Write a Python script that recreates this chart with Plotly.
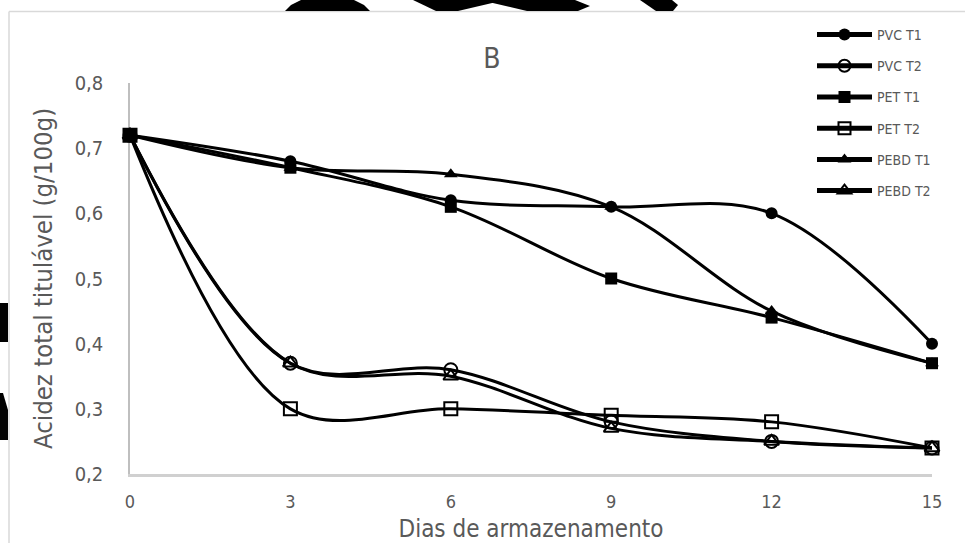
import plotly.graph_objects as go

# ---- data ----
dias = [0, 3, 6, 9, 12, 15]
pvc_t1 = [0.72, 0.68, 0.62, 0.61, 0.60, 0.40]
pvc_t2 = [0.72, 0.37, 0.36, 0.28, 0.25, 0.24]
pet_t1 = [0.72, 0.67, 0.61, 0.50, 0.44, 0.37]
pet_t2 = [0.72, 0.30, 0.30, 0.29, 0.28, 0.24]
pebd_t1 = [0.72, 0.67, 0.66, 0.61, 0.45, 0.37]
pebd_t2 = [0.72, 0.37, 0.35, 0.27, 0.25, 0.24]
series_names = ["PVC T1", "PVC T2", "PET T1", "PET T2", "PEBD T1", "PEBD T2"]
x_ticks = [0, 3, 6, 9, 12, 15]
y_ticks = [0.2, 0.3, 0.4, 0.5, 0.6, 0.7, 0.8]

W, H = 965, 543
ML, MR, MT, MB = 130, 33, 83, 69
PW, PH = W - ML - MR, H - MT - MB

FONT = "Liberation Sans Narrow, DejaVu Sans Condensed, Open Sans, sans-serif"
GRAY = "#595959"

symbols = ["circle", "circle-open", "square", "square-open", "triangle-up", "triangle-up-open"]
values = [pvc_t1, pvc_t2, pet_t1, pet_t2, pebd_t1, pebd_t2]

fig = go.Figure()
for i, (name, vals, sym) in enumerate(zip(series_names, values, symbols)):
    is_open = sym.endswith("open")
    fig.add_trace(go.Scatter(
        x=dias, y=vals, name=name, mode="lines+markers",
        line=dict(color="black", width=3, shape="spline", smoothing=1.0),
        marker=dict(symbol=sym, size=13 if is_open else 12, color="black",
                    line=dict(color="black", width=2 if is_open else 0)),
        cliponaxis=False, legendgroup=f"g{i}",
    ))


def P(x, y):
    return (x - ML) / PW, (H - MB - y) / PH


def path(points):
    s = ""
    for k, (x, y) in enumerate(points):
        px, py = P(x, y)
        s += ("M" if k == 0 else "L") + f"{px:.5f},{py:.5f} "
    return s + "Z"


blobs = [
    [(285, 11), (291, 5), (301, 0), (354, 0), (364, 5), (370, 11)],
    [(413, 0), (505, 0), (458, 11), (436, 11)],
    [(480, 0), (575, 0), (590, 6), (578, 11), (527, 11)],
    [(640, 0), (672, 0), (678, 5), (673, 11), (656, 11)],
    [(0, 303), (8, 303), (8, 342), (0, 342)],
    [(0, 393), (3, 393), (8, 410), (8, 440), (0, 440)],
]
shapes = []
for b in blobs:
    shapes.append(dict(type="path", xref="paper", yref="paper", path=path(b),
                       fillcolor="black", line=dict(width=0), layer="above"))
# chart border
x0, y0 = P(9, 11.5)
x1, y1 = P(965, 543)
shapes.append(dict(type="line", xref="paper", yref="paper", x0=x0, y0=y0, x1=x1, y1=y0,
                   line=dict(color="#d9d9d9", width=1.5), layer="below"))
shapes.append(dict(type="line", xref="paper", yref="paper", x0=x0, y0=y0, x1=x0, y1=y1,
                   line=dict(color="#d9d9d9", width=1.5), layer="below"))

lx, ly = P(812, 19)
fig.update_layout(
    width=W, height=H,
    margin=dict(l=ML, r=MR, t=MT, b=MB, autoexpand=False),
    paper_bgcolor="white", plot_bgcolor="white",
    separators=",.",
    font=dict(family=FONT, color=GRAY),
    title=dict(text="B", x=492 / W, xanchor="center",
               y=1 - 58 / H, yanchor="middle", font=dict(size=28, color=GRAY)),
    xaxis=dict(range=[0, 15], tickvals=x_ticks, showgrid=False, zeroline=False,
               showline=True, linecolor="#d0d0d0", linewidth=3,
               ticks="outside", ticklen=9, tickcolor="rgba(0,0,0,0)",
               tickfont=dict(size=18, color=GRAY), layer="below traces",
               title=dict(text="Dias de armazenamento", standoff=10,
                          font=dict(size=24, color=GRAY))),
    yaxis=dict(range=[0.2, 0.8], tickvals=y_ticks, tickformat=".1f", showgrid=False,
               zeroline=False, showline=True, linecolor="#bfbfbf", linewidth=1.5,
               ticks="outside", ticklen=21, tickcolor="rgba(0,0,0,0)",
               tickfont=dict(size=20, color=GRAY), layer="below traces",
               title=dict(text="Acidez total titulável (g/100g)", standoff=15,
                          font=dict(size=25.5, color=GRAY))),
    showlegend=True,
    legend=dict(x=lx, y=ly, xanchor="left", yanchor="top", bgcolor="rgba(0,0,0,0)",
                font=dict(size=14, color=GRAY), itemwidth=55, tracegroupgap=10,
                itemsizing="constant"),
    shapes=shapes,
)

fig.write_html("out.html")
